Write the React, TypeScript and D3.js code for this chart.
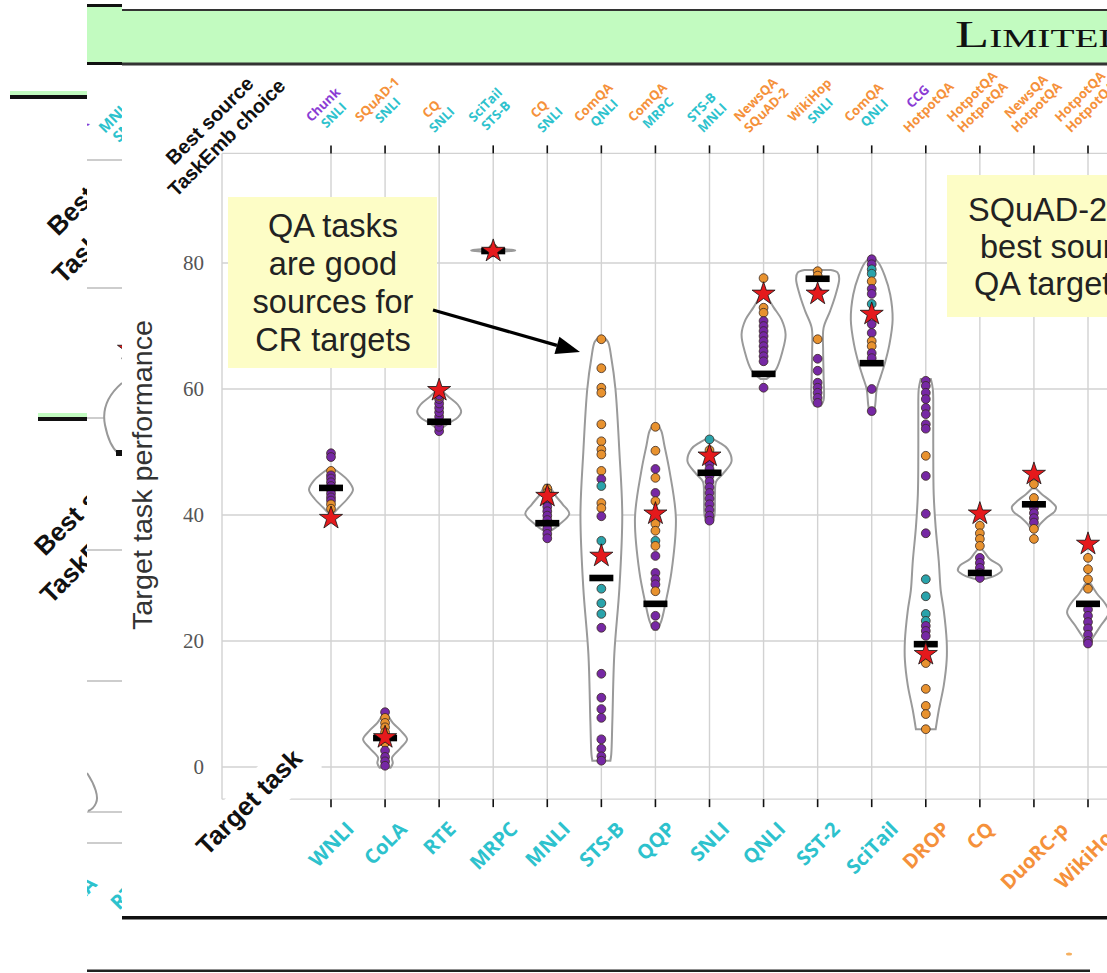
import React from 'react';
import * as d3 from 'd3';

type Cls = 'cr' | 'qa' | 'sl';
type Dot = [number, Cls];
type Prof = [number, number];

// target tasks (x axis) and their class
const targets = ['WNLI', 'CoLA', 'RTE', 'MRPC', 'MNLI', 'STS-B', 'QQP', 'SNLI', 'QNLI', 'SST-2', 'SciTail', 'DROP', 'CQ', 'DuoRC-p', 'WikiHop'];
const targetClass: Cls[] = ['cr', 'cr', 'cr', 'cr', 'cr', 'cr', 'cr', 'cr', 'cr', 'cr', 'cr', 'qa', 'qa', 'qa', 'qa'];

// source task classes
const crTasks = ['WNLI', 'CoLA', 'RTE', 'MRPC', 'MNLI', 'STS-B', 'QQP', 'SNLI', 'QNLI', 'SST-2', 'SciTail'];
const qaTasks = ['SQuAD-1', 'SQuAD-2', 'NewsQA', 'HotpotQA', 'BoolQ', 'DROP', 'WikiHop', 'DuoRC-p', 'DuoRC-s', 'CQ', 'ComQA'];
const slTasks = ['CCG', 'POS-PTB', 'POS-EWT', 'Parent', 'GParent', 'GGParent', 'ST', 'Chunk', 'NER', 'GED', 'Conj'];

// top labels
const bestSource = ['Chunk', 'SQuAD-1', 'CQ', 'SciTail', 'CQ', 'ComQA', 'ComQA', 'STS-B', 'NewsQA', 'WikiHop', 'ComQA', 'CCG', 'HotpotQA', 'NewsQA', 'HotpotQA'];
const taskEmbChoice = ['SNLI', 'SNLI', 'SNLI', 'STS-B', 'SNLI', 'QNLI', 'MRPC', 'MNLI', 'SQuAD-2', 'SNLI', 'QNLI', 'HotpotQA', 'HotpotQA', 'HotpotQA', 'HotpotQA'];

// red star = best source, black bar = TaskEmb choice
const bestValue = [39.5, 4.7, 59.8, 81.9, 43.0, 33.5, 40.2, 49.4, 75.1, 75.1, 71.9, 17.9, 40.2, 46.5, 35.4];
const taskEmbValue = [44.3, 4.6, 54.8, 81.9, 38.7, 30.0, 25.9, 46.7, 62.4, 77.5, 64.1, 19.5, 30.8, 41.7, 25.9];

const yTicks = [0, 20, 40, 60, 80];

// per-target source results
const wnliDots: Dot[] = [[49.8, 'sl'], [49.2, 'sl'], [47.0, 'qa'], [46.3, 'sl'], [45.8, 'sl'], [45.2, 'sl'], [44.6, 'sl'], [44.0, 'sl'], [43.4, 'sl'], [42.8, 'sl'], [42.3, 'sl'], [41.7, 'qa'], [41.0, 'qa']];
const colaDots: Dot[] = [[8.7, 'sl'], [7.8, 'qa'], [7.0, 'qa'], [6.3, 'qa'], [5.5, 'qa'], [3.8, 'qa'], [2.6, 'sl'], [1.6, 'sl'], [0.9, 'sl'], [0.2, 'sl']];
const rteDots: Dot[] = [[53.3, 'sl'], [54.0, 'sl'], [54.8, 'sl'], [55.6, 'sl'], [56.3, 'sl'], [57.0, 'sl'], [57.7, 'sl'], [58.4, 'sl'], [58.8, 'qa'], [59.0, 'sl']];
const mrpcDots: Dot[] = [[81.7, 'sl'], [81.9, 'cr'], [82.1, 'sl'], [82.3, 'qa']];
const mnliDots: Dot[] = [[44.2, 'qa'], [43.6, 'qa'], [42.0, 'sl'], [41.3, 'sl'], [40.6, 'sl'], [39.9, 'sl'], [39.2, 'sl'], [38.5, 'sl'], [37.8, 'sl'], [37.0, 'sl'], [36.3, 'sl']];
const stsbDots: Dot[] = [[67.9, 'qa'], [63.3, 'qa'], [60.2, 'qa'], [59.4, 'qa'], [54.4, 'qa'], [51.7, 'qa'], [50.4, 'qa'], [49.6, 'qa'], [47.0, 'qa'], [45.7, 'sl'], [44.6, 'cr'], [41.9, 'qa'], [41.1, 'qa'], [39.8, 'sl'], [35.9, 'cr'], [28.3, 'cr'], [26.0, 'cr'], [24.3, 'cr'], [22.1, 'sl'], [14.8, 'sl'], [11.0, 'sl'], [9.2, 'sl'], [7.8, 'sl'], [4.4, 'sl'], [2.9, 'sl'], [1.7, 'sl'], [1.0, 'sl']];
const qqpDots: Dot[] = [[54.0, 'qa'], [50.2, 'qa'], [47.3, 'sl'], [45.9, 'qa'], [43.5, 'sl'], [42.2, 'qa'], [38.6, 'qa'], [37.5, 'qa'], [35.9, 'cr'], [35.1, 'qa'], [33.5, 'sl'], [30.8, 'sl'], [29.8, 'sl'], [29.0, 'sl'], [27.9, 'qa'], [24.0, 'sl'], [22.4, 'sl']];
const snliDots: Dot[] = [[52.0, 'cr'], [50.3, 'qa'], [48.1, 'sl'], [47.3, 'sl'], [46.2, 'sl'], [45.3, 'sl'], [44.4, 'sl'], [43.5, 'sl'], [42.6, 'sl'], [41.7, 'sl'], [40.8, 'sl'], [39.9, 'sl'], [39.1, 'sl']];
const qnliDots: Dot[] = [[77.6, 'qa'], [72.9, 'qa'], [72.1, 'qa'], [70.8, 'sl'], [70.0, 'sl'], [69.2, 'sl'], [68.4, 'sl'], [67.6, 'sl'], [66.8, 'sl'], [66.0, 'sl'], [65.2, 'sl'], [64.4, 'sl'], [60.2, 'sl']];
const sst2Dots: Dot[] = [[78.7, 'qa'], [78.0, 'qa'], [75.5, 'sl'], [67.9, 'qa'], [64.8, 'sl'], [62.9, 'sl'], [61.0, 'sl'], [60.2, 'sl'], [59.4, 'sl'], [58.6, 'sl'], [57.8, 'sl']];
const scitailDots: Dot[] = [[80.6, 'sl'], [79.8, 'sl'], [79.0, 'cr'], [78.3, 'cr'], [77.1, 'qa'], [75.9, 'sl'], [75.1, 'sl'], [73.5, 'cr'], [70.3, 'sl'], [68.9, 'sl'], [67.6, 'qa'], [66.8, 'qa'], [65.7, 'sl'], [64.9, 'sl'], [60.0, 'sl'], [56.5, 'sl']];
const dropDots: Dot[] = [[61.3, 'sl'], [60.5, 'sl'], [59.4, 'sl'], [58.4, 'sl'], [57.0, 'sl'], [56.0, 'sl'], [54.4, 'sl'], [53.7, 'sl'], [49.4, 'qa'], [46.2, 'sl'], [40.2, 'sl'], [37.1, 'sl'], [29.8, 'cr'], [27.1, 'cr'], [24.3, 'cr'], [23.2, 'cr'], [22.4, 'sl'], [21.6, 'sl'], [20.8, 'sl'], [16.5, 'qa'], [12.4, 'qa'], [9.7, 'qa'], [8.4, 'qa'], [6.0, 'qa']];
const cqDots: Dot[] = [[38.3, 'qa'], [37.1, 'qa'], [36.2, 'qa'], [35.1, 'qa'], [33.2, 'sl'], [32.4, 'sl'], [31.6, 'sl'], [30.8, 'sl'], [30.0, 'sl']];
const duorcDots: Dot[] = [[44.9, 'qa'], [42.7, 'qa'], [41.1, 'sl'], [40.3, 'sl'], [39.5, 'sl'], [38.8, 'sl'], [37.8, 'qa'], [36.2, 'qa']];
const wikihopDots: Dot[] = [[33.2, 'qa'], [31.4, 'qa'], [29.8, 'qa'], [28.3, 'qa'], [25.0, 'sl'], [24.0, 'sl'], [23.0, 'sl'], [22.0, 'sl'], [21.0, 'sl'], [20.0, 'sl'], [19.6, 'sl']];

// violin outlines: [value, relative density]
const wnliViolin: Prof[] = [[40.2, 0.09], [41.2, 0.36], [42.5, 0.73], [44, 1], [45.5, 0.77], [46.5, 0.45], [47.3, 0.14]];
const colaViolin: Prof[] = [[-0.1, 0.25], [0.6, 0.35], [1.5, 0.32], [3, 0.7], [4.4, 1], [5.8, 0.7], [7, 0.35], [8.1, 0.15]];
const rteViolin: Prof[] = [[52.9, 0.08], [53.8, 0.15], [54.6, 0.45], [55.5, 0.85], [56.4, 1], [57.5, 0.85], [58.7, 0.45], [59.8, 0.1]];
const mrpcViolin: Prof[] = [[81.75, 0.08], [81.9, 0.8], [82.0, 1], [82.1, 0.8], [82.25, 0.08]];
const mnliViolin: Prof[] = [[37.4, 0.12], [38.5, 0.55], [40.2, 1], [41.7, 0.7], [43.2, 0.35], [44.8, 0.1]];
const stsbViolin: Prof[] = [[1, 0.41], [2, 0.45], [7.3, 0.5], [18, 0.59], [28.4, 0.82], [40, 0.95], [50, 0.82], [60, 0.64], [65, 0.45], [67.5, 0.3], [68.2, 0.1]];
const qqpViolin: Prof[] = [[21.8, 0.09], [23.2, 0.27], [25.9, 0.45], [31, 0.73], [39.5, 0.93], [47, 0.64], [51, 0.41], [53.3, 0.27], [54.4, 0.09]];
const snliViolin: Prof[] = [[38.8, 0.14], [40, 0.23], [43, 0.25], [45.3, 0.3], [46.5, 0.6], [48.5, 1], [50.5, 0.82], [51.5, 0.45], [52.1, 0.14]];
const qnliViolin: Prof[] = [[61.6, 0.14], [63, 0.55], [66, 0.86], [68.7, 1], [71, 0.82], [73, 0.45], [74.8, 0.14]];
const sst2Violin: Prof[] = [[57.3, 0.14], [58.2, 0.27], [62, 0.27], [66, 0.25], [69.7, 0.27], [72.4, 0.57], [75, 0.82], [77.5, 0.98], [78.5, 0.9], [78.9, 0.6]];
const scitailViolin: Prof[] = [[56, 0.09], [57.5, 0.16], [60, 0.23], [62, 0.41], [64, 0.59], [67, 0.8], [71, 0.95], [75, 0.84], [78, 0.59], [80, 0.32], [80.8, 0.09]];
const dropViolin: Prof[] = [[6, 0.45], [9, 0.59], [13, 0.82], [17, 0.95], [20, 0.95], [24.8, 0.82], [28, 0.68], [32.7, 0.59], [38, 0.45], [43.3, 0.36], [50, 0.34], [56, 0.34], [60, 0.32], [61.6, 0.23]];
const cqViolin: Prof[] = [[29.8, 0.14], [30.3, 0.64], [31.2, 1], [32, 0.9], [33, 0.45], [34, 0.23], [34.6, 0.09]];
const duorcViolin: Prof[] = [[37.4, 0.09], [38.5, 0.27], [39.5, 0.55], [40.6, 0.95], [41.3, 1], [42.3, 0.73], [43.3, 0.36], [44.2, 0.09]];
const wikihopViolin: Prof[] = [[19.8, 0.09], [20.8, 0.27], [22.5, 0.59], [24.5, 0.95], [26, 0.77], [27.5, 0.41], [29, 0.14]];

const dotsByTarget = [wnliDots, colaDots, rteDots, mrpcDots, mnliDots, stsbDots, qqpDots, snliDots, qnliDots, sst2Dots, scitailDots, dropDots, cqDots, duorcDots, wikihopDots];
const violinByTarget = [wnliViolin, colaViolin, rteViolin, mrpcViolin, mnliViolin, stsbViolin, qqpViolin, snliViolin, qnliViolin, sst2Violin, scitailViolin, dropViolin, cqViolin, duorcViolin, wikihopViolin];

const sourceClass: Record<string, Cls> = {};
crTasks.forEach(t => (sourceClass[t] = 'cr'));
qaTasks.forEach(t => (sourceClass[t] = 'qa'));
slTasks.forEach(t => (sourceClass[t] = 'sl'));

const labelColor: Record<Cls, string> = { cr: '#2dc2cd', qa: '#f5913b', sl: '#8a3cd4' };
const dotColor: Record<Cls, string> = { cr: '#2aa3ab', qa: '#e8922f', sl: '#7628a4' };

const W = 1107;
const H = 973;

let ctx: CanvasRenderingContext2D | null = null;
function textWidth(t: string, font: string) {
  if (!ctx) ctx = document.createElement('canvas').getContext('2d');
  if (!ctx) return t.length * 7;
  ctx.font = font;
  return ctx.measureText(t).width;
}

export default function App() {
  const x = d3.scalePoint<string>().domain(targets).range([331, 1088]);
  const y = d3.scaleLinear().domain([0, 80]).range([767, 263]);
  const half = d3.scaleLinear().domain([0, 1]).range([0, 22]);

  const left = 222;
  const top = y(97.4);
  const bottom = y(-5.1);
  const right = W;
  const R2 = Math.SQRT2;
  const star = d3.symbol(d3.symbolStar, 165)() as string;
  const violin = (cx: number) =>
    d3.area<Prof>()
      .y(d => y(d[0]))
      .x0(d => cx - half(d[1]))
      .x1(d => cx + half(d[1]))
      .curve(d3.curveCatmullRom.alpha(0.5));

  const topFont = '700 13px "Open Sans"';
  const botFont = '700 20px "Open Sans"';
  const sans = '"Liberation Sans", Arial, sans-serif';

  // arrow of the annotation
  const a0 = [433, 310];
  const a1 = [580, 352];
  const len = Math.hypot(a1[0] - a0[0], a1[1] - a0[1]);
  const ux = (a1[0] - a0[0]) / len;
  const uy = (a1[1] - a0[1]) / len;
  const bx = a1[0] - 24 * ux;
  const by = a1[1] - 24 * uy;
  const head = `M${a1[0]},${a1[1]}L${bx - 9 * uy},${by + 9 * ux}L${bx + 9 * uy},${by - 9 * ux}Z`;

  const ttW = textWidth('Target task', `bold 26px ${sans}`);

  return (
    <svg width={W} height={H} style={{ position: 'absolute', left: 0, top: 0, background: '#fff' }}>
      <defs>
        <clipPath id="clipA"><rect x={0} y={0} width={87} height={H} /></clipPath>
        <clipPath id="clipB"><rect x={87} y={0} width={35} height={H} /></clipPath>
        <clipPath id="clipPanel"><rect x={122} y={0} width={W - 122} height={H} /></clipPath>
      </defs>

      {/* layer behind, left */}
      <g clipPath="url(#clipA)">
        <rect x={10} y={91} width={77} height={4} fill="#c2fbc0" />
        <rect x={10} y={95} width={77} height={4} fill="#111" />
        <rect x={38} y={413} width={49} height={4} fill="#c2fbc0" />
        <rect x={38} y={417} width={49} height={4} fill="#111" />
        <g fontFamily={sans} fontWeight="bold" fontSize={26} fill="#111">
          <text transform="translate(58,237) rotate(-45)">Best source</text>
          <text transform="translate(63,285) rotate(-45)">TaskEmb choice</text>
          <text transform="translate(45,557) rotate(-45)">Best source</text>
          <text transform="translate(51,605) rotate(-45)">TaskEmb choice</text>
        </g>
      </g>

      {/* layer behind, strip */}
      <g clipPath="url(#clipB)">
        <rect x={87} y={4} width={35} height={3} fill="#111" />
        <rect x={87} y={7} width={35} height={56} fill="#c2fbc0" />
        <rect x={87} y={62} width={35} height={3} fill="#111" />
        <text transform="translate(105,134) rotate(-45)" fontFamily='"Open Sans"' fontWeight={700} fontSize={15} fill={labelColor.cr}>MNLI</text>
        <text transform="translate(119,143) rotate(-45)" fontFamily='"Open Sans"' fontWeight={700} fontSize={15} fill={labelColor.cr}>SNLI</text>
        <text transform="translate(90,124) rotate(-45)" textAnchor="end" fontFamily='"Open Sans"' fontWeight={700} fontSize={14} fill={labelColor.sl}>Chunk</text>
        {[160, 288, 550, 681, 812, 843].map(v => (
          <line key={v} x1={87} x2={122} y1={v} y2={v} stroke="#cdcdcd" strokeWidth={2} />
        ))}
        <line x1={87} x2={105} y1={418} y2={418} stroke="#cdcdcd" strokeWidth={2} />
        <path d={star} transform="translate(129,349)" fill="#e5191c" stroke="#111" strokeWidth={0.8} />
        <path d="M122,383C108,395 102,410 105,425C108,440 112,448 118,453" fill="none" stroke="#999" strokeWidth={2} />
        <rect x={116} y={450} width={12} height={6} fill="#111" />
        <path d="M87,773C95,785 99,797 96,803C94,808 91,810 88,811" fill="none" stroke="#999" strokeWidth={2} />
        <text transform="translate(98,885) rotate(-45)" textAnchor="end" fontFamily='"Open Sans"' fontWeight={700} fontSize={20} fill={labelColor.cr}>CoLA</text>
        <text transform="translate(119,911) rotate(-45)" fontFamily='"Open Sans"' fontWeight={700} fontSize={20} fill={labelColor.cr}>RTE</text>
      </g>

      {/* bottom lines of the slides */}
      <rect x={87} y={969.5} width={1003} height={2.5} fill="#222" />
      <ellipse cx={1069} cy={954} rx={3} ry={1.5} fill="#f5b060" />

      {/* main panel */}
      <rect x={122} y={64} width={W - 122} height={852} fill="#fff" />
      <rect x={122} y={10} width={W - 122} height={54} fill="#c2fbc0" />
      <line x1={122} x2={W} y1={10} y2={10} stroke="#333" strokeWidth={2} />
      <line x1={122} x2={W} y1={64} y2={64} stroke="#333" strokeWidth={3} />
      <text x={955} y={47} fontFamily='"Liberation Serif", serif' fontSize={37} fontVariant="small-caps" fill="#111" textLength={172} lengthAdjust="spacingAndGlyphs">Limited</text>
      <rect x={122} y={916} width={W - 122} height={3.5} fill="#111" />

      <g clipPath="url(#clipPanel)">
        {/* grid and frame */}
        <g stroke="#d2d2d2" strokeWidth={1.4}>
          {yTicks.map(t => <line key={t} x1={left} x2={right} y1={y(t)} y2={y(t)} />)}
          {targets.map(t => <line key={t} x1={x(t)} x2={x(t)} y1={top} y2={bottom} />)}
          <line x1={left} x2={left} y1={top} y2={bottom} />
          <line x1={left} x2={right} y1={top} y2={top} />
          <line x1={left} x2={right} y1={bottom} y2={bottom} />
        </g>
        <g stroke="#111" strokeWidth={1.6}>
          {targets.map(t => <line key={t} x1={x(t)} x2={x(t)} y1={top - 8} y2={top} />)}
          {targets.map(t => <line key={t + 'b'} x1={x(t)} x2={x(t)} y1={bottom} y2={bottom + 8} />)}
        </g>
        {yTicks.map(t => (
          <text key={t} x={204} y={y(t)} textAnchor="end" dominantBaseline="central" fontFamily='"Liberation Serif", serif' fontSize={21} fill="#555">{t}</text>
        ))}
        <text transform="translate(143,475) rotate(-90)" textAnchor="middle" dominantBaseline="central" fontFamily={sans} fontSize={27} fill="#333" textLength={310} lengthAdjust="spacingAndGlyphs">Target task performance</text>

        {/* annotation boxes */}
        <rect x={228} y={197} width={209} height={171} fill="#fdfdc6" />
        <g fontFamily={sans} fontSize={32.5} fill="#222" textAnchor="middle">
          <text x={333} y={237}>QA tasks</text>
          <text x={333} y={275}>are good</text>
          <text x={333} y={313}>sources for</text>
          <text x={333} y={351}>CR targets</text>
        </g>
        <rect x={947} y={175} width={200} height={142} fill="#fdfdc6" />
        <g fontFamily={sans} fontSize={32.5} fill="#222">
          <text x={968} y={221}>SQuAD-2 is the</text>
          <text x={980} y={258}>best source for</text>
          <text x={974} y={295}>QA targets</text>
        </g>

        {/* violins, dots, markers */}
        {targets.map((t, i) => {
          const cx = x(t)!;
          return (
            <g key={t}>
              <path d={violin(cx)(violinByTarget[i]) as string} fill="#fff" stroke="#9a9a9a" strokeWidth={2} />
              {dotsByTarget[i].map((d, j) => (
                <circle key={j} cx={cx} cy={y(d[0])} r={4.4} fill={dotColor[d[1]]} stroke="#3a2a22" strokeWidth={0.8} />
              ))}
              <rect x={cx - 12} y={y(taskEmbValue[i]) - 3.3} width={24} height={6.6} fill="#000" />
              <path d={star} transform={`translate(${cx},${y(bestValue[i])})`} fill="#e5191c" stroke="#111" strokeWidth={0.8} />
            </g>
          );
        })}

        {/* arrow */}
        <line x1={a0[0]} y1={a0[1]} x2={bx} y2={by} stroke="#000" strokeWidth={3.2} />
        <path d={head} fill="#000" />

        {/* top labels: best source / TaskEmb choice */}
        {targets.map((t, i) => {
          const a = bestSource[i];
          const b = taskEmbChoice[i];
          const wb = Math.max(textWidth(a, topFont), textWidth(b, topFont));
          const cx = x(t)! - 3;
          const cy = 135 - (wb + 30) / (2 * R2);
          return (
            <g key={t} transform={`translate(${cx},${cy}) rotate(-45)`} fontFamily='"Open Sans"' fontWeight={700} fontSize={13} textAnchor="middle" dominantBaseline="central">
              <text y={-7.5} fill={labelColor[sourceClass[a]]}>{a}</text>
              <text y={7.5} fill={labelColor[sourceClass[b]]}>{b}</text>
            </g>
          );
        })}
        <g transform="translate(218,129) rotate(-45)" fontFamily={sans} fontWeight="bold" fontSize={20} fill="#111" textAnchor="middle" dominantBaseline="central">
          <text y={-12}>Best source</text>
          <text y={12}>TaskEmb choice</text>
        </g>

        {/* bottom labels: target task */}
        {targets.map((t, i) => {
          const w = textWidth(t, botFont);
          const cy = 817 + (w + 23) / (2 * R2);
          return (
            <text key={t} transform={`translate(${x(t)},${cy}) rotate(-45)`} textAnchor="middle" dominantBaseline="central" fontFamily='"Open Sans"' fontWeight={700} fontSize={20} fill={labelColor[targetClass[i]]}>{t}</text>
          );
        })}
        <g transform="translate(249,802) rotate(-45)">
          <rect x={-ttW / 2 - 8} y={-19} width={ttW + 16} height={46} fill="#fff" />
          <text textAnchor="middle" dominantBaseline="central" fontFamily={sans} fontWeight="bold" fontSize={26} fill="#111">Target task</text>
        </g>
      </g>
    </svg>
  );
}
